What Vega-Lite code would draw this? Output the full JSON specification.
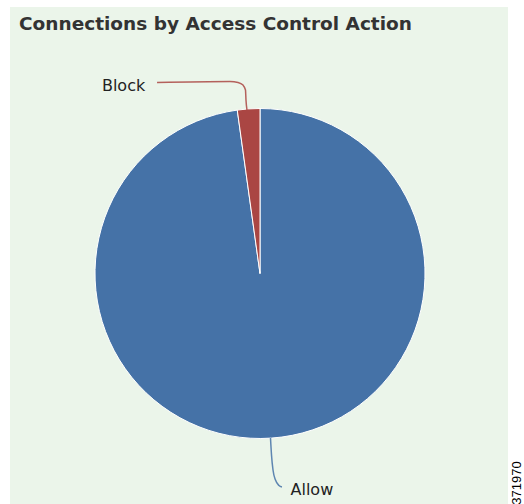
{
  "$schema": "https://vega.github.io/schema/vega-lite/v6.json",
  "autosize": "none",
  "width": 498,
  "height": 497,
  "padding": {"left": 10, "top": 7, "right": 16, "bottom": 0},
  "background": "#ffffff",
  "config": {"view": {"fill": "#EBF5EA", "stroke": null}},
  "title": {
    "text": "Connections by Access Control Action",
    "anchor": "start",
    "frame": "group",
    "offset": -26,
    "dx": 9,
    "font": "DejaVu Sans",
    "fontSize": 18.5,
    "fontWeight": "bold",
    "color": "#333333"
  },
  "datasets": {
    "slices": [
      {"action": "Allow", "value": 97.8},
      {"action": "Block", "value": 2.2}
    ],
    "leaders": [
      {"action": "Block", "seq": 1, "u": -0.624, "v": 1.158},
      {"action": "Block", "seq": 2, "u": -0.182, "v": 1.164},
      {"action": "Block", "seq": 3, "u": -0.133, "v": 1.158},
      {"action": "Block", "seq": 4, "u": -0.103, "v": 1.142},
      {"action": "Block", "seq": 5, "u": -0.088, "v": 1.112},
      {"action": "Block", "seq": 6, "u": -0.085, "v": 1.052},
      {"action": "Block", "seq": 7, "u": -0.079, "v": 0.991},
      {"action": "Allow", "seq": 1, "u": 0.0636, "v": -0.997},
      {"action": "Allow", "seq": 2, "u": 0.0697, "v": -1.1},
      {"action": "Allow", "seq": 3, "u": 0.0788, "v": -1.191},
      {"action": "Allow", "seq": 4, "u": 0.0939, "v": -1.252},
      {"action": "Allow", "seq": 5, "u": 0.115, "v": -1.285},
      {"action": "Allow", "seq": 6, "u": 0.133, "v": -1.294}
    ],
    "labels": [
      {"action": "Block", "u": -0.958, "v": 1.108},
      {"action": "Allow", "u": 0.185, "v": -1.34}
    ],
    "note": [
      {"text": "371970", "u": 1.56, "v": -1.27}
    ]
  },
  "layer": [
    {
      "data": {"name": "slices"},
      "mark": {"type": "arc", "outerRadius": 165, "stroke": "#ffffff", "strokeWidth": 1},
      "encoding": {
        "theta": {"field": "value", "type": "quantitative", "stack": true},
        "color": {"field": "action", "type": "nominal", "scale": {"domain": ["Allow", "Block"], "range": ["#4572A7", "#AA4643"]}, "legend": null},
        "x": {"datum": 0, "type": "quantitative", "scale": {"domain": [-1.5152, 1.503], "nice": false, "zero": false}, "axis": null},
        "y": {"datum": 0, "type": "quantitative", "scale": {"domain": [-1.397, 1.6152], "nice": false, "zero": false}, "axis": null}
      }
    },
    {
      "data": {"name": "leaders"},
      "mark": {"type": "line", "strokeWidth": 1.5, "opacity": 0.85, "interpolate": "monotone"},
      "encoding": {
        "x": {"field": "u", "type": "quantitative"},
        "y": {"field": "v", "type": "quantitative"},
        "color": {"field": "action", "type": "nominal"},
        "order": {"field": "seq"}
      }
    },
    {
      "data": {"name": "labels"},
      "mark": {"type": "text", "align": "left", "baseline": "alphabetic", "font": "DejaVu Sans", "fontSize": 16, "color": "#222222"},
      "encoding": {
        "x": {"field": "u", "type": "quantitative"},
        "y": {"field": "v", "type": "quantitative"},
        "text": {"field": "action"}
      }
    },
    {
      "data": {"name": "note"},
      "mark": {"type": "text", "align": "center", "baseline": "middle", "angle": 270, "font": "Liberation Sans", "fontSize": 13, "color": "#000000"},
      "encoding": {
        "x": {"field": "u", "type": "quantitative"},
        "y": {"field": "v", "type": "quantitative"},
        "text": {"field": "text"}
      }
    }
  ]
}
